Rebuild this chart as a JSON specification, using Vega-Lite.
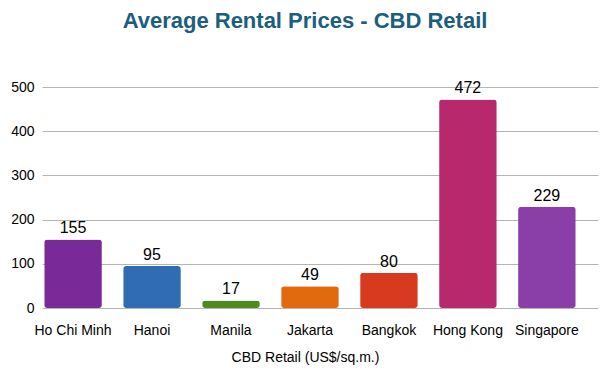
{
  "$schema": "https://vega.github.io/schema/vega-lite/v6.json",
  "autosize": {"type": "none"},
  "width": 556,
  "height": 221,
  "padding": {"left": 42, "top": 87, "right": 11, "bottom": 68},
  "background": "white",
  "title": {
    "text": "Average Rental Prices - CBD Retail",
    "font": "Liberation Sans",
    "fontSize": 22,
    "fontWeight": "bold",
    "color": "#1b5e7e",
    "anchor": "middle",
    "dx": -15,
    "offset": 47
  },
  "data": {
    "values": [
      {"city": "Ho Chi Minh", "price": 155, "color": "#7a2a98"},
      {"city": "Hanoi", "price": 95, "color": "#2f6cb3"},
      {"city": "Manila", "price": 17, "color": "#4f8a20"},
      {"city": "Jakarta", "price": 49, "color": "#e2690e"},
      {"city": "Bangkok", "price": 80, "color": "#d83a1f"},
      {"city": "Hong Kong", "price": 472, "color": "#b8286d"},
      {"city": "Singapore", "price": 229, "color": "#8a3ea8"}
    ]
  },
  "encoding": {
    "x": {
      "field": "city",
      "type": "nominal",
      "sort": null,
      "scale": {"paddingInner": 0.27, "paddingOuter": 0.155, "align": 0.09},
      "axis": {
        "title": "CBD Retail (US$/sq.m.)",
        "titleFont": "Liberation Sans",
        "titleFontSize": 14,
        "titleFontWeight": "normal",
        "titleColor": "#000",
        "titlePadding": 13,
        "titleX": 263,
        "labelAngle": 0,
        "labelFont": "Liberation Sans",
        "labelFontSize": 14,
        "labelColor": "#000",
        "labelPadding": 15,
        "ticks": false,
        "domain": false
      }
    },
    "y": {
      "field": "price",
      "type": "quantitative",
      "scale": {"domain": [0, 500], "nice": false},
      "axis": {
        "title": null,
        "values": [0, 100, 200, 300, 400, 500],
        "labelFont": "Liberation Sans",
        "labelFontSize": 14,
        "labelColor": "#000",
        "labelPadding": 8,
        "ticks": false,
        "domain": false,
        "gridColor": "#b5b5b5",
        "gridWidth": 1
      }
    }
  },
  "layer": [
    {
      "mark": {"type": "bar", "cornerRadius": 3},
      "encoding": {
        "color": {"field": "color", "type": "nominal", "scale": null}
      }
    },
    {
      "mark": {"type": "text", "baseline": "bottom", "dy": -3, "font": "Liberation Sans", "fontSize": 16, "color": "#000"},
      "encoding": {"text": {"field": "price", "type": "quantitative"}}
    }
  ],
  "config": {"view": {"stroke": null}}
}
